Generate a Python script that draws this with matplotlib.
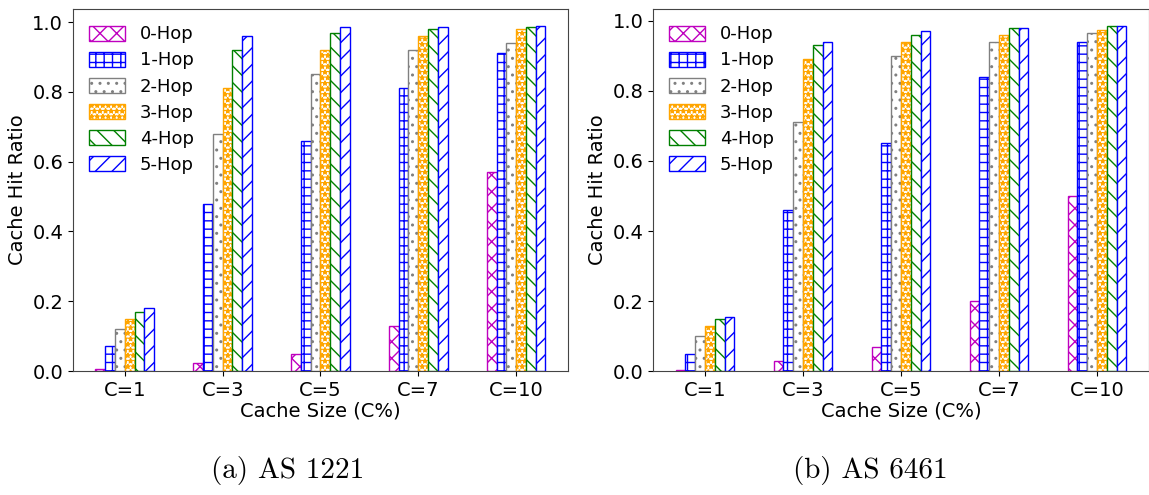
import numpy as np
import matplotlib
matplotlib.use("Agg")
import matplotlib.pyplot as plt

categories = ["C=1", "C=3", "C=5", "C=7", "C=10"]
hop_labels = ["0-Hop", "1-Hop", "2-Hop", "3-Hop", "4-Hop", "5-Hop"]

# panel (a) AS 1221, one list per hop
as1221 = [
    [0.005, 0.022, 0.05, 0.13, 0.57],
    [0.072, 0.48, 0.66, 0.81, 0.91],
    [0.12, 0.68, 0.85, 0.92, 0.94],
    [0.15, 0.81, 0.92, 0.96, 0.98],
    [0.17, 0.92, 0.97, 0.98, 0.985],
    [0.18, 0.96, 0.985, 0.985, 0.988],
]

# panel (b) AS 6461
as6461 = [
    [0.003, 0.03, 0.07, 0.20, 0.50],
    [0.05, 0.46, 0.65, 0.84, 0.94],
    [0.10, 0.71, 0.90, 0.94, 0.965],
    [0.13, 0.89, 0.94, 0.96, 0.975],
    [0.15, 0.93, 0.96, 0.98, 0.985],
    [0.153, 0.94, 0.97, 0.98, 0.985],
]

colors = ["m", "blue", "gray", "orange", "green", "blue"]
hatches = ["xx", "++", "..", "***", "\\\\", "//"]

subtitles = ["(a) AS 1221", "(b) AS 6461"]


def draw_panel(ax, data):
    x = np.arange(len(categories))
    width = 0.1
    for i, values in enumerate(data):
        offset = (i - 2.5) * width
        ax.bar(x + offset, values, width, label=hop_labels[i], color="white",
               edgecolor=colors[i], hatch=hatches[i], linewidth=1.0)
    ax.set_xticks(x)
    ax.set_xticklabels(categories)
    ax.set_yticks([0.0, 0.2, 0.4, 0.6, 0.8, 1.0])
    ax.tick_params(axis="both", labelsize=14)
    ax.set_xlabel("Cache Size (C%)", fontsize=14, labelpad=1)
    ax.set_ylabel("Cache Hit Ratio", fontsize=14)
    ax.legend(loc="upper left", fontsize=13, frameon=False, handlelength=2.0,
              handleheight=0.9, borderaxespad=0.5, labelspacing=0.45)
    for spine in ax.spines.values():
        spine.set_color("#444444")


fig = plt.figure(figsize=(11.49, 4.95), dpi=100)
ax1 = fig.add_axes([0.0635, 0.2505, 0.4308, 0.7313])
ax2 = fig.add_axes([0.5683, 0.2505, 0.4317, 0.7313])

draw_panel(ax1, as1221)
draw_panel(ax2, as6461)

fig.text(288 / 1149, 0.05, subtitles[0], ha="center", va="center",
         fontsize=21, family="cmr10")
fig.text(870 / 1149, 0.05, subtitles[1], ha="center", va="center",
         fontsize=21, family="cmr10")

fig.savefig("out.png", dpi=100)
plt.close(fig)
